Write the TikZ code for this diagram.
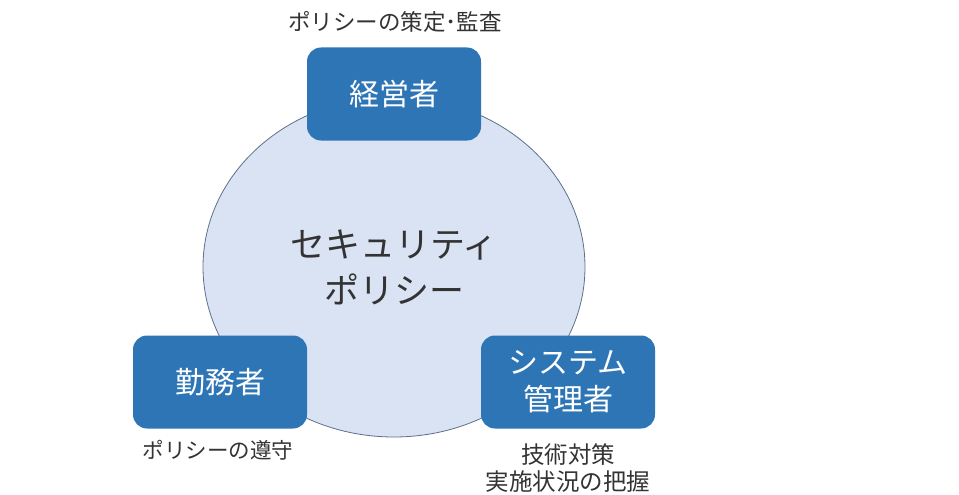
\documentclass[tikz,border=0pt]{standalone}
\usepackage{fontspec}
\setmainfont{Noto Sans CJK JP}
\usetikzlibrary{shapes.geometric}
\definecolor{boxblue}{HTML}{2E75B6}
\definecolor{circfill}{HTML}{DAE3F3}
\definecolor{circline}{HTML}{5F6F89}
\definecolor{txtdark}{HTML}{333333}
\begin{document}
\begin{tikzpicture}[x=1pt,y=-1pt,
  rolebox/.style={draw=none,fill=boxblue,rounded corners=14pt,minimum width=174pt,minimum height=93pt,
    inner sep=0pt,text=white,align=center,font=\fontsize{30}{37}\selectfont},
  caption/.style={text=txtdark,align=center,inner sep=0pt}]
\useasboundingbox (0,0) rectangle (959,495);
\node[ellipse,draw=circline,line width=0.8pt,fill=circfill,minimum width=382pt,minimum height=340pt,inner sep=0pt,
  text=txtdark,align=center,font=\fontsize{35}{46}\selectfont] (policy) at (394,267) {セキュリティ\\ポリシー};
\node[rolebox] (exec) at (394,94) {経営者};
\node[rolebox] (staff) at (220,382) {勤務者};
\node[rolebox] (admin) at (568,382) {システム\\管理者};
\node[caption,font=\fontsize{22.5}{26}\selectfont] (execl) at (395,22) {ポリシーの策定･監査};
\node[caption,font=\fontsize{21.5}{26}\selectfont] (staffl) at (218,450) {ポリシーの遵守};
\node[caption,font=\fontsize{23.5}{27}\selectfont] (adminl) at (568,468) {技術対策\\実施状況の把握};
\end{tikzpicture}
\end{document}
